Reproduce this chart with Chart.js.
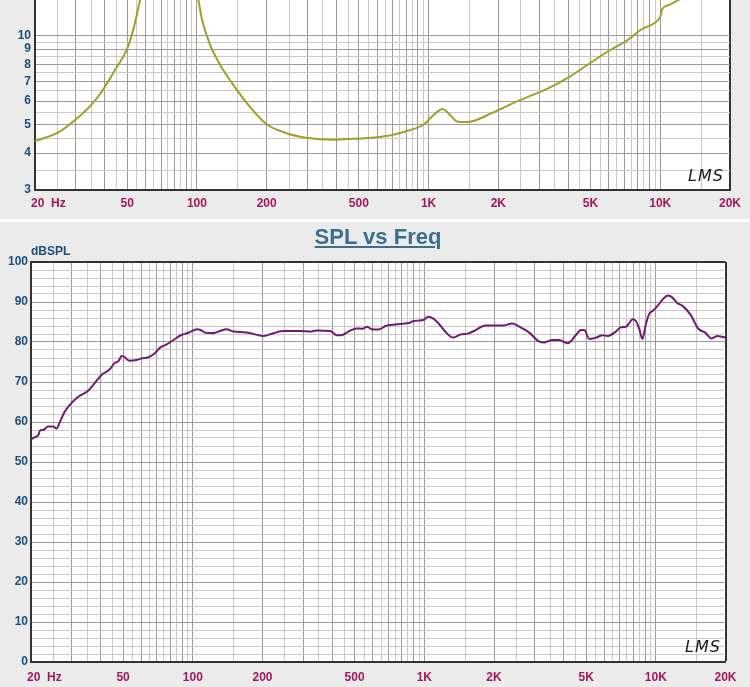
<!DOCTYPE html>
<html><head><meta charset="utf-8">
<script src="https://cdn.jsdelivr.net/npm/chart.js@4/dist/chart.umd.min.js"></script>
<style>
html,body{margin:0;padding:0;background:#ebebeb;width:750px;height:687px;overflow:hidden;font-family:"Liberation Sans",Arial,sans-serif}
#sep{position:absolute;left:0;top:219px;width:750px;height:3px;background:#fff}
#c1{position:absolute;left:0;top:0}
#c2{position:absolute;left:0;top:222px}
#title{position:absolute;left:3px;width:750px;top:224px;line-height:22px;text-align:center;font:bold 22px "Liberation Sans",Arial,sans-serif;color:#3b6f8c;text-decoration:underline}
#unit{position:absolute;left:31px;top:244px;line-height:13px;font:bold 12px "Liberation Sans",Arial,sans-serif;color:#1d4f7c}
.lms{position:absolute;font:italic 16px "DejaVu Sans",sans-serif;color:#1a1a1a;letter-spacing:1px;line-height:18px}
</style></head>
<body>
<canvas id="c1" width="750" height="219"></canvas>
<div id="sep"></div>
<canvas id="c2" width="750" height="465"></canvas>
<div id="title">SPL vs Freq</div>
<div id="unit">dBSPL</div>
<div class="lms" style="left:688px;top:167px">LMS</div>
<div class="lms" style="left:685px;top:638px">LMS</div>
<script>
// ---- Impedance (top chart) ----
const zFreq = [20,25.2,29.8,34.6,39.3,44.4,49.8,53.1,56.9,62,68,74,78,83,90,96,101.5,105.3,113.5,127,143,166,200,242,296,387,470,582,690,812,957,1040,1151,1230,1336,1476,1860,2420,3300,4000,4880,5960,7270,8250,9800,10000,10200,10900,12000,14000,17000,20000];
const zOhm  = [4.39,4.70,5.18,5.77,6.55,7.67,8.96,10.47,13.2,16.5,23,32,36,33,24,17,13.2,11.3,9.4,7.87,6.84,5.85,5.01,4.68,4.51,4.44,4.47,4.52,4.6,4.76,5.01,5.34,5.64,5.41,5.11,5.10,5.45,6.0,6.64,7.2,7.98,8.85,9.69,10.47,11.3,11.6,12.3,12.7,13.2,14.2,15.6,16.8];
// ---- SPL (bottom chart) ----
const splFreq = [20,20.8,21.5,21.9,22.6,23.7,24.9,25.8,26.7,28.0,29.9,32.0,35.3,37.2,40.4,43.8,46.1,47.6,49.3,50.5,53.1,57.2,60.2,64.3,68.6,72.2,77.1,82.5,89.1,95.8,104.5,108,113.7,122.8,131,139.8,149.5,170.6,202,223,246,290,321,343,392,418,438,470,510,540,565,593,630,653,679,748,857,900,990,1040,1090,1150,1225,1330,1440,1540,1640,1840,2060,2180,2390,2610,2830,3140,3300,3580,3820,4160,4520,4750,4910,5160,5520,5900,6200,6720,7060,7420,7670,7930,8200,8470,8750,9040,9340,9810,10300,10800,11300,11800,12400,13000,14100,15300,16300,17400,18500,19400,20000];
const splDb = [55.7,56.2,56.7,57.9,58.0,58.9,58.9,58.4,60.1,62.6,64.7,66.3,67.8,69.3,71.8,73.2,74.8,75.1,76.5,76.3,75.3,75.5,75.9,76.2,77.2,78.6,79.4,80.5,81.75,82.3,83.2,83.0,82.3,82.25,82.75,83.2,82.6,82.4,81.5,82.2,82.75,82.75,82.6,82.9,82.75,81.7,81.7,82.6,83.4,83.3,83.8,83.2,83.1,83.4,84.0,84.4,84.75,85.25,85.5,86.3,85.9,84.7,82.75,81.1,81.9,82.1,82.75,84.1,84.1,84.1,84.6,83.6,82.4,80.1,79.9,80.5,80.5,79.7,81.75,83.0,83.0,80.75,81.1,81.7,81.5,82.6,83.7,83.8,84.7,85.7,85.25,83.4,80.75,84.25,86.9,88.0,89.4,90.9,91.6,91.1,89.7,89.1,86.9,83.25,82.4,80.9,81.5,81.25,81.2];
// ---- Axes / ticks ----
const xLabelFreqs = [20,50,100,200,500,1000,2000,5000,10000,20000];
const xLabelTexts = ['20  Hz','50','100','200','500','1K','2K','5K','10K','20K'];
const zTickValues = [3,3.5,4,4.5,5,5.5,6,6.5,7,7.5,8,8.5,9,9.5,10];
const zTickLabels = ['3','4','5','6','7','8','9','10'];
const splTickLabels = ['0','10','20','30','40','50','60','70','80','90','100'];

// grid frequencies: steps of half a decade unit
const xGridSet = new Set();
[10,100,1000,10000].forEach(d=>{
  for(let m=2; m<=20; m++){ const v=m*d/2; if(v>=20 && v<=20000) xGridSet.add(v); }
});
const xGridSorted = Array.from(xGridSet).sort((a,b)=>a-b);
const splGrid = []; for(let v=0; v<=100; v+=2) splGrid.push(v);

const labelMap = {}; xLabelFreqs.forEach((f,i)=>labelMap[f]=xLabelTexts[i]);
function isMajorFreq(v){ const d=Math.pow(10,Math.floor(Math.log10(v)+1e-9)); return Math.abs(v/d-Math.round(v/d))<1e-6; }

const MAJOR='#9a9a9a', MINOR='#c9c9c9', DARK='#333333';
const fontTick={family:'"Liberation Sans", Arial, sans-serif',weight:'bold',size:12};
const plotBg={id:'plotBg',beforeDraw(ch){const a=ch.chartArea,c=ch.ctx;c.save();c.fillStyle='#ffffff';c.fillRect(a.left,a.top,a.right-a.left,a.bottom-a.top);c.restore();}};
function noPad(s){ s.paddingLeft=0; s.paddingRight=0; s.paddingTop=0; s.paddingBottom=0; }

function xScale(pad,h){
  return {
    type:'logarithmic',min:20,max:20000,
    afterBuildTicks:s=>{s.ticks=xGridSorted.map(v=>({value:v}));},
    afterFit:s=>{s.height=h; noPad(s);},
    ticks:{autoSkip:false,maxRotation:0,minRotation:0,color:'#a3185b',font:fontTick,padding:pad,
      callback:(v)=>{const t=labelMap[v]; if(!t) return ''; return v===20 ? '        '+t : t;}},
    grid:{drawTicks:false,
      color:c=>{const v=c.tick&&c.tick.value; if(v===20000) return DARK; return isMajorFreq(v)?MAJOR:MINOR;},
      lineWidth:c=>(c.tick&&c.tick.value===20000)?2:1},
    border:{color:DARK,width:2}
  };
}

// Top chart
new Chart(document.getElementById('c1'),{
  type:'line',
  data:{datasets:[{data:zFreq.map((f,i)=>({x:f,y:zOhm[i]})),borderColor:'#9da02c',borderWidth:2,pointRadius:0,cubicInterpolationMode:'monotone',fill:false}]},
  options:{
    animation:false,responsive:false,events:[],
    layout:{padding:{left:0,right:20,top:0,bottom:0}},
    plugins:{legend:{display:false},tooltip:{enabled:false},title:{display:false}},
    scales:{
      x:xScale(6,29),
      y:{type:'logarithmic',min:3,max:13.2,
        afterBuildTicks:s=>{s.ticks=zTickValues.map(v=>({value:v}));},
        afterFit:s=>{s.width=35; noPad(s);},
        ticks:{autoSkip:false,color:'#1d4f7c',font:fontTick,padding:4,
          callback:v=>zTickLabels.includes(String(v))?String(v):''},
        grid:{drawTicks:false,color:c=>{const v=c.tick&&c.tick.value;return Number.isInteger(v)?MAJOR:MINOR;}},
        border:{color:DARK,width:2}}
    }
  },
  plugins:[plotBg]
});

// Bottom chart
new Chart(document.getElementById('c2'),{
  type:'line',
  data:{datasets:[{data:splFreq.map((f,i)=>({x:f,y:splDb[i]})),borderColor:'#721a72',borderWidth:2,pointRadius:0,cubicInterpolationMode:'monotone',fill:false}]},
  options:{
    animation:false,responsive:false,events:[],
    layout:{padding:{left:0,right:24.5,top:40,bottom:0}},
    plugins:{legend:{display:false},tooltip:{enabled:false},title:{display:false}},
    scales:{
      x:xScale(8,25),
      y:{type:'linear',min:0,max:100,
        afterBuildTicks:s=>{s.ticks=splGrid.map(v=>({value:v}));},
        afterFit:s=>{s.width=31; noPad(s);},
        ticks:{autoSkip:false,color:'#1d4f7c',font:fontTick,padding:3,
          callback:v=>splTickLabels.includes(String(v))?String(v):''},
        grid:{drawTicks:false,
          color:c=>{const v=c.tick&&c.tick.value; if(v===100) return DARK; return v%10===0?MAJOR:MINOR;},
          lineWidth:c=>(c.tick&&c.tick.value===100)?2:1},
        border:{color:DARK,width:2}}
    }
  },
  plugins:[plotBg]
});
</script>
</body></html>
